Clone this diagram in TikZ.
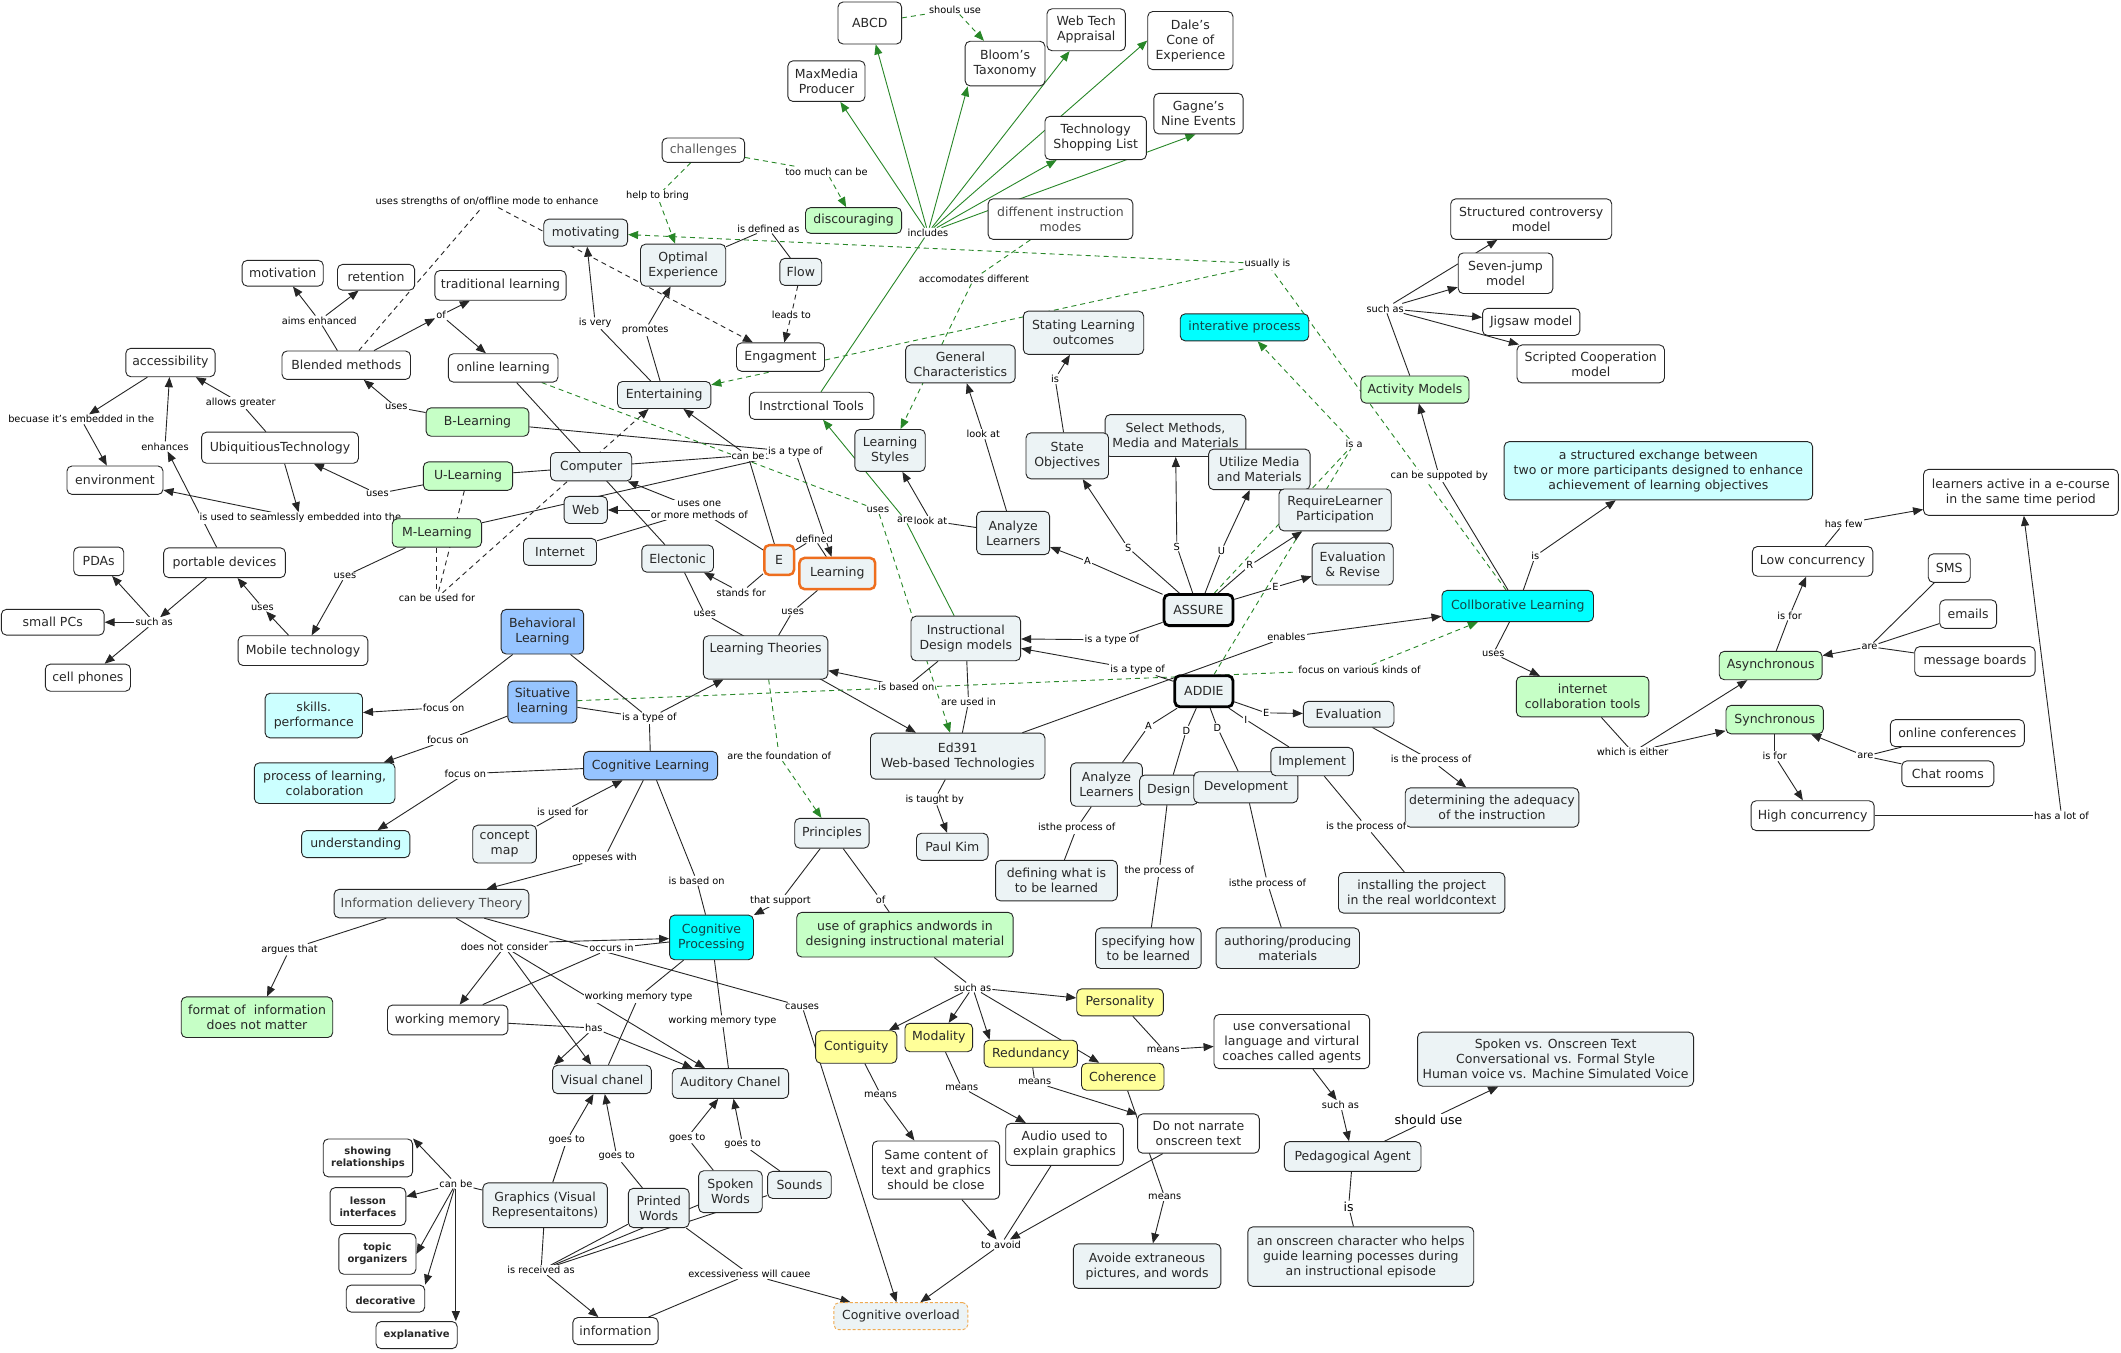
\documentclass[tikz,border=0pt]{standalone}
\usepackage{fontspec}
\setmainfont{DejaVu Sans}
\usetikzlibrary{arrows.meta,backgrounds}
\definecolor{gfill}{RGB}{236,243,245}
\definecolor{grnfill}{RGB}{198,255,198}
\definecolor{cyfill}{RGB}{0,255,255}
\definecolor{lcyfill}{RGB}{204,255,255}
\definecolor{blfill}{RGB}{150,196,255}
\definecolor{yfill}{RGB}{255,255,153}
\definecolor{lgreen}{RGB}{40,135,40}
\definecolor{orng}{RGB}{238,110,30}
\definecolor{ltorng}{RGB}{240,170,80}
\definecolor{txt}{RGB}{40,40,40}
\newcommand\nodefont{\fontsize{12.5}{15}\selectfont}
\newcommand\labfont{\fontsize{9.8}{11.5}\selectfont}
\newcommand\boldfont{\fontsize{10}{12}\selectfont\bfseries}
\newcommand\lnkL[3][]{\draw[ln,#1] (#2) -- (#3);}
\newcommand\lnkA[3][]{\draw[ln,ar,#1] (#2) -- (#3);}
\tikzset{
 cbox/.style={draw=black!85, line width=0.9pt, rounded corners=5pt, fill=white, align=center, font=\nodefont, text=txt, inner xsep=4pt, inner ysep=3pt},
 wb/.style={cbox},
 gb/.style={cbox, fill=gfill},
 grb/.style={cbox, fill=grnfill},
 cyb/.style={cbox, fill=cyfill, text={rgb,255:red,20;green,70;blue,70}},
 lcb/.style={cbox, fill=lcyfill},
 blb/.style={cbox, fill=blfill},
 yb/.style={cbox, fill=yfill},
 bldb/.style={cbox, font=\boldfont},
 obox/.style={gb, draw=orng, line width=2.5pt},
 tbox/.style={gb, draw=black, line width=2.8pt},
 sz/.style 2 args={minimum width={#1*1.3527pt}, minimum height={#2*1.3527pt}},
 lab/.style={font=\labfont, fill=white, inner sep=1pt, text=black, align=center},
 ln/.style={line width=0.9pt, draw=black!85},
 ar/.style={-{Triangle[length=10pt,width=8pt]}},
 gln/.style={draw=lgreen},
 dsh/.style={dash pattern=on 5pt off 4pt}
}
\begin{document}
\begin{tikzpicture}[x=1.3527pt,y=-1.3527pt]
\path[use as bounding box] (0,0) rectangle (1568,1000);
% ---------- concepts ----------
\node[wb,sz={47}{31}] (abcd) at (643,17) {ABCD};
\node[wb,sz={57}{30}] (maxm) at (611,60) {MaxMedia\\Producer};
\node[wb,sz={59}{33}] (bloom) at (743,47) {Bloom's\\Taxonomy};
\node[wb,sz={58}{31}] (webtech) at (803,22) {Web Tech\\Appraisal};
\node[wb,sz={63}{43}] (dale) at (880,30) {Dale's\\Cone of\\Experience};
\node[wb,sz={66}{30}] (gagne) at (886,84) {Gagne's\\Nine Events};
\node[wb,sz={75}{32}] (techsl) at (810,102) {Technology\\Shopping List};
\node[wb,sz={61}{18},text=black!65] (chall) at (520,111) {challenges};
\node[grb,sz={71}{19}] (disc) at (631,163) {discouraging};
\node[wb,sz={107}{30},text=black!70] (diffm) at (784,162) {diffenent instruction\\modes};
\node[gb,sz={62}{20}] (motiv) at (433,172) {motivating};
\node[gb,sz={63}{31}] (optexp) at (505,196) {Optimal\\Experience};
\node[gb,sz={31}{20}] (flow) at (592,201) {Flow};
\node[wb,sz={60}{19}] (motivation) at (209,202) {motivation};
\node[wb,sz={57}{19}] (retention) at (278,205) {retention};
\node[wb,sz={97}{22}] (tradl) at (370,211) {traditional learning};
\node[wb,sz={95}{21}] (blended) at (256,270) {Blended methods};
\node[wb,sz={81}{21}] (onl) at (372,272) {online learning};
\node[wb,sz={65}{21}] (engag) at (577,264) {Engagment};
\node[gb,sz={69}{20}] (entert) at (491,292) {Entertaining};
\node[wb,sz={92}{20}] (itools) at (600,300) {Instrctional Tools};
\node[gb,sz={81}{28}] (gench) at (710,269) {General\\Characteristics};
\node[gb,sz={89}{32}] (stlo) at (801,246) {Stating Learning\\outcomes};
\node[cyb,sz={95}{20}] (iterp) at (920,242) {interative process};
\node[wb,sz={119}{30}] (strc) at (1132,162) {Structured controversy\\model};
\node[wb,sz={70}{30}] (sevj) at (1113,202) {Seven-jump\\model};
\node[wb,sz={72}{20}] (jigs) at (1132,238) {Jigsaw model};
\node[wb,sz={109}{28}] (scrc) at (1176,269) {Scripted Cooperation\\model};
\node[grb,sz={80}{20}] (actm) at (1046,288) {Activity Models};
\node[wb,sz={66}{21}] (access) at (126,268) {accessibility};
\node[grb,sz={76}{21}] (blearn) at (353,312) {B-Learning};
\node[wb,sz={116}{23}] (ubiq) at (207,331) {UbiquitiousTechnology};
\node[wb,sz={71}{21}] (envir) at (85,355) {environment};
\node[grb,sz={66}{21}] (ulearn) at (346,352) {U-Learning};
\node[gb,sz={60}{21}] (comp) at (437,345) {Computer};
\node[gb,sz={52}{31}] (lstyle) at (658,333) {Learning\\Styles};
\node[gb,sz={104}{31}] (selm) at (869,322) {Select Methods,\\Media and Materials};
\node[gb,sz={61}{34}] (stobj) at (789,337) {State\\Objectives};
\node[gb,sz={75}{30}] (utmm) at (931,347) {Utilize Media\\and Materials};
\node[gb,sz={83}{31}] (reqlp) at (987,377) {RequireLearner\\Participation};
\node[lcb,sz={228}{43}] (strex) at (1226,348) {a structured exchange between\\two or more participants designed to enhance\\achievement of learning objectives};
\node[wb,sz={144}{34}] (lact) at (1494,364) {learners active in a e-course\\in the same time period};
\node[gb,sz={32}{20}] (web) at (433,377) {Web};
\node[gb,sz={54}{20}] (inet) at (414,408) {Internet};
\node[gb,sz={53}{20}] (elec) at (501,413) {Electonic};
\node[obox,sz={22}{22}] (enode) at (576,414) {E};
\node[obox,sz={56}{23}] (learn) at (619,424) {Learning};
\node[lab] (l8) at (222,383) {is used to seamlessly embedded into the};
\node[grb,sz={66}{21}] (mlearn) at (323,394) {M-Learning};
\node[wb,sz={90}{22}] (portd) at (166,416) {portable devices};
\node[wb,sz={37}{21}] (pdas) at (73,415) {PDAs};
\node[gb,sz={54}{32}] (anl1) at (749,394) {Analyze\\Learners};
\node[gb,sz={60}{31}] (evrev) at (1000,417) {Evaluation\\\& Revise};
\node[wb,sz={89}{22}] (lowc) at (1340,415) {Low concurrency};
\node[wb,sz={31}{21}] (sms) at (1441,420) {SMS};
\node[wb,sz={76}{19}] (smpc) at (39,460) {small PCs};
\node[tbox,sz={51}{23}] (assure) at (886,451) {ASSURE};
\node[cyb,sz={112}{23}] (collab) at (1122,448) {Collborative Learning};
\node[wb,sz={42}{21}] (emails) at (1455,454) {emails};
\node[blb,sz={61}{33}] (behav) at (401,467) {Behavioral\\Learning};
\node[gb,sz={81}{33}] (idm) at (714,472) {Instructional\\Design models};
\node[gb,sz={92}{32},text depth=20pt] (lth) at (566,486) {Learning Theories};
\node[wb,sz={63}{20}] (cellp) at (65,501) {cell phones};
\node[wb,sz={96}{22}] (mobt) at (224,481) {Mobile technology};
\node[wb,sz={89}{22}] (msgb) at (1460,489) {message boards};
\node[grb,sz={76}{21}] (async) at (1309,492) {Asynchronous};
\node[tbox,sz={43}{23}] (addie) at (890,511) {ADDIE};
\node[grb,sz={98}{30}] (ict) at (1170,515) {internet\\collaboration tools};
\node[blb,sz={51}{31}] (situ) at (401,519) {Situative\\learning};
\node[lcb,sz={72}{33}] (skill) at (232,529) {skills.\\performance};
\node[gb,sz={67}{19}] (evalu) at (997,528) {Evaluation};
\node[grb,sz={72}{21}] (sync) at (1312,532) {Synchronous};
\node[wb,sz={99}{20}] (onconf) at (1447,542) {online conferences};
\node[blb,sz={99}{21}] (cogl) at (481,566) {Cognitive Learning};
\node[gb,sz={129}{34}] (ed391) at (708,559) {Ed391\\Web-based Technologies};
\node[gb,sz={53}{32}] (anl2) at (818,580) {Analyze\\Learners};
\node[gb,sz={43}{22}] (design) at (864,584) {Design};
\node[gb,sz={77}{23}] (devel) at (921,582) {Development};
\node[gb,sz={61}{21}] (impl) at (970,563) {Implement};
\node[lcb,sz={104}{30}] (procl) at (240,579) {process of learning,\\colaboration};
\node[wb,sz={68}{19}] (chat) at (1440,572) {Chat rooms};
\node[gb,sz={106}{29}] (deter) at (1103,597) {determining the adequacy\\of the instruction};
\node[wb,sz={91}{22}] (highc) at (1340,603) {High concurrency};
\node[gb,sz={55}{22}] (princ) at (615,616) {Principles};
\node[gb,sz={47}{28}] (cmap) at (373,624) {concept\\map};
\node[lcb,sz={80}{20}] (under) at (263,624) {understanding};
\node[gb,sz={53}{20}] (paul) at (704,626) {Paul Kim};
\node[gb,sz={90}{30}] (defw) at (781,651) {defining what is\\to be learned};
\node[gb,sz={123}{30}] (inst) at (1051,660) {installing the project\\in the real worldcontext};
\node[gb,sz={144}{21},text=black!70] (idt) at (319,668) {Information delievery Theory};
\node[cyb,sz={62}{33}] (cogp) at (526,693) {Cognitive\\Processing};
\node[grb,sz={160}{33}] (useg) at (669,691) {use of graphics andwords in\\designing instructional material};
\node[gb,sz={78}{30}] (spec) at (849,701) {specifying how\\to be learned};
\node[gb,sz={106}{30}] (auth) at (952,701) {authoring/producing\\materials};
\node[grb,sz={112}{30}] (fmt) at (190,752) {format of\ \ information\\does not matter};
\node[wb,sz={89}{22}] (wmem) at (331,754) {working memory};
\node[yb,sz={64}{20}] (pers) at (828,741) {Personality};
\node[wb,sz={115}{40}] (ucon) at (955,770) {use conversational\\language and virtural\\coaches called agents};
\node[gb,sz={204}{40}] (spok) at (1150,783) {Spoken vs. Onscreen Text\\Conversational vs. Formal Style\\Human voice vs. Machine Simulated Voice};
\node[yb,sz={60}{24}] (contig) at (633,774) {Contiguity};
\node[yb,sz={50}{21}] (modal) at (694,767) {Modality};
\node[yb,sz={69}{20}] (redun) at (762,779) {Redundancy};
\node[yb,sz={61}{20}] (coher) at (830,796) {Coherence};
\node[gb,sz={73}{21}] (vis) at (445,798) {Visual chanel};
\node[gb,sz={86}{22}] (aud) at (540,801) {Auditory Chanel};
\node[wb,sz={90}{29}] (dnn) at (886,838) {Do not narrate\\onscreen text};
\node[wb,sz={87}{31}] (audio) at (787,846) {Audio used to\\explain graphics};
\node[wb,sz={94}{43}] (same) at (692,865) {Same content of\\text and graphics\\should be close};
\node[gb,sz={101}{22}] (pedag) at (1000,855) {Pedagogical Agent};
\node[bldb,sz={66}{28}] (showr) at (272,856) {showing\\relationships};
\node[bldb,sz={56}{28}] (lessi) at (272,892) {lesson\\interfaces};
\node[bldb,sz={57}{30}] (topic) at (279,927) {topic\\organizers};
\node[bldb,sz={58}{20},text height=12pt] (decor) at (285,960) {decorative};
\node[bldb,sz={60}{20}] (expl) at (308,987) {explanative};
\node[gb,sz={92}{33}] (graph) at (403,891) {Graphics (Visual\\Representaitons)};
\node[gb,sz={45}{29}] (printw) at (487,893) {Printed\\Words};
\node[gb,sz={47}{31}] (spokw) at (540,881) {Spoken\\Words};
\node[gb,sz={47}{20}] (sounds) at (591,876) {Sounds};
\node[gb,sz={109}{33}] (avoid) at (848,936) {Avoide extraneous\\pictures, and words};
\node[gb,sz={167}{44}] (onch) at (1006,929) {an onscreen character who helps\\guide learning pocesses during\\an instructional episode};
\node[wb,sz={63}{20}] (info) at (455,984) {information};
\node[gb,sz={99}{20},draw=ltorng,dash pattern=on 3pt off 2pt] (cover) at (666,973) {Cognitive overload};
% ---------- linking phrases ----------
\node[lab] (l1) at (360,149) {uses strengths of on/offline mode to enhance};
\node[lab] (l2) at (236,237) {aims enhanced};
\node[lab] (l3) at (326,233) {of};
\node[lab] (l4) at (293,301) {uses};
\node[lab] (l5) at (178,298) {allows greater};
\node[lab] (l6) at (60,310) {becuase it's embedded in the};
\node[lab] (l7) at (122,330) {enhances};
\node[lab] (l9) at (279,365) {uses};
\node[lab] (l10) at (255,426) {uses};
\node[lab] (l11) at (323,442) {can be used for};
\node[lab] (l12) at (114,460) {such as};
\node[lab] (l13) at (194,449) {uses};
\node[lab] (l14) at (588,334) {is a type of};
\node[lab] (l15) at (553,337) {can be};
\node[lab] (l16) at (517,377) {uses one\\or more methods of};
\node[lab] (l17) at (548,438) {stands for};
\node[lab] (l18) at (602,398) {defined};
\node[lab] (l19) at (586,452) {uses};
\node[lab] (l20) at (521,454) {uses};
\node[lab] (l21) at (649,377) {uses};
\node[lab] (l22) at (669,384) {are};
\node[lab] (l23) at (688,385) {look at};
\node[lab] (l24) at (727,321) {look at};
\node[lab] (l25) at (780,280) {is};
\node[lab] (l26) at (720,206) {accomodates different};
\node[lab] (l27) at (937,195) {usually is};
\node[lab] (l28) at (1001,328) {is a};
\node[lab] (l29) at (1064,352) {can be suppoted by};
\node[lab] (l30) at (1024,228) {such as};
\node[lab] (l31) at (1135,411) {is};
\node[lab] (l32) at (1104,483) {uses};
\node[lab] (l33) at (1207,556) {which is either};
\node[lab] (l34) at (1323,455) {is for};
\node[lab] (l35) at (1312,559) {is for};
\node[lab] (l36) at (1363,387) {has few};
\node[lab] (l37) at (1524,603) {has a lot of};
\node[lab] (l38) at (1382,478) {are};
\node[lab] (l39) at (1379,559) {are};
\node[lab] (l40) at (951,471) {enables};
\node[lab] (l41) at (1005,495) {focus on various kinds of};
\node[lab] (l42) at (822,473) {is a type of};
\node[lab] (l43) at (841,495) {is a type of};
\node[lab] (l44) at (804,415) {A};
\node[lab] (l45) at (834,405) {S};
\node[lab] (l46) at (870,404) {S};
\node[lab] (l47) at (903,407) {U};
\node[lab] (l48) at (924,418) {R};
\node[lab] (l49) at (943,434) {E};
\node[lab] (l50) at (849,537) {A};
\node[lab] (l51) at (877,540) {D};
\node[lab] (l52) at (900,538) {D};
\node[lab] (l53) at (921,532) {I};
\node[lab] (l54) at (936,527) {E};
\node[lab] (l55) at (796,612) {isthe process of};
\node[lab] (l56) at (857,644) {the process of};
\node[lab] (l57) at (937,653) {isthe process of};
\node[lab] (l58) at (1010,611) {is the process of};
\node[lab] (l59) at (1058,562) {is the process of};
\node[lab] (l60) at (716,519) {are used in};
\node[lab] (l61) at (670,508) {is based on};
\node[lab] (l62) at (480,531) {is a type of};
\node[lab] (l63) at (328,523) {focus on};
\node[lab] (l64) at (331,547) {focus on};
\node[lab] (l65) at (344,572) {focus on};
\node[lab] (l66) at (416,600) {is used for};
\node[lab] (l67) at (447,634) {oppeses with};
\node[lab] (l68) at (515,651) {is based on};
\node[lab] (l69) at (576,559) {are the foundation of};
\node[lab] (l70) at (691,591) {is taught by};
\node[lab] (l71) at (577,666) {that support};
\node[lab] (l72) at (651,665) {of};
\node[lab] (l73) at (719,730) {such as};
\node[lab] (l74) at (214,702) {argues that};
\node[lab] (l75) at (373,700) {does not consider};
\node[lab] (l76) at (452,701) {occurs in};
\node[lab] (l77) at (472,737) {working memory type};
\node[lab] (l78) at (534,755) {working memory type};
\node[lab] (l79) at (439,760) {has};
\node[lab] (l80) at (593,744) {causes};
\node[lab] (l81) at (419,843) {goes to};
\node[lab] (l82) at (456,855) {goes to};
\node[lab] (l83) at (508,841) {goes to};
\node[lab] (l84) at (549,846) {goes to};
\node[lab] (l85) at (337,875) {can be};
\node[lab] (l86) at (400,939) {is received as};
\node[lab] (l87) at (554,942) {excessiveness will cauee};
\node[lab] (l88) at (651,809) {means};
\node[lab] (l89) at (711,804) {means};
\node[lab] (l90) at (765,800) {means};
\node[lab] (l91) at (861,885) {means};
\node[lab] (l92) at (860,776) {means};
\node[lab] (l93) at (991,817) {such as};
\node[lab,font=\nodefont] (l94) at (1056,828) {should use};
\node[lab,font=\nodefont] (l95) at (997,892) {is};
\node[lab] (l96) at (740,920) {to avoid};
\node[lab] (l97) at (686,172) {includes};
\node[lab] (l98) at (706,7) {shouls use};
\node[lab] (l99) at (611,127) {too much can be};
\node[lab] (l100) at (486,145) {help to bring};
\node[lab] (l101) at (568,169) {is defined as};
\node[lab] (l102) at (585,233) {leads to};
\node[lab] (l103) at (440,239) {is very};
\node[lab] (l104) at (477,244) {promotes};
% ---------- connectors ----------
\begin{scope}[on background layer]
\fill[white] (0,0) rectangle (1568,1000);
\lnkL[dsh]{blended}{l1} \lnkA[dsh]{l1}{engag}
\lnkL{blended}{l2} \lnkA{l2}{motivation} \lnkA{l2}{retention}
\lnkA{blended}{l3} \lnkA{l3}{tradl} \lnkA{l3}{onl}
\lnkL{blearn}{l4} \lnkA{l4}{blended}
\lnkL{ubiq}{l5} \lnkA{l5}{access}
\lnkA{access}{l6} \lnkA{l6}{envir}
\lnkA{portd}{l7} \lnkA{l7}{access}
\lnkA{ubiq}{l8} \lnkA{l8}{envir}
\lnkL{ulearn}{l9} \lnkA{l9}{ubiq}
\lnkL{mlearn}{l10} \lnkA{l10}{mobt}
\lnkL[dsh]{ulearn}{l11} \lnkL[dsh]{mlearn}{l11} \lnkA[dsh]{l11}{entert}
\lnkA{portd}{l12} \lnkA{l12}{pdas} \lnkA{l12}{smpc} \lnkA{l12}{cellp}
\lnkA{mobt}{l13} \lnkA{l13}{portd}
\lnkL{blearn}{l14} \lnkL{ulearn}{l14} \lnkL{mlearn}{l14} \lnkA{l14}{learn}
\lnkL{enode}{l15} \lnkA{l15}{entert}
\lnkL{enode}{l16} \lnkA{l16}{comp} \lnkA{l16}{web} \lnkL{l16}{inet}
\lnkL{enode}{l17} \lnkA{l17}{elec}
\lnkL{enode}{l18} \lnkL{l18}{learn}
\lnkL{learn}{l19} \lnkL{l19}{lth}
\lnkL{elec}{l20} \lnkA{l20}{ed391}
\lnkL{onl}{elec}
\lnkL[gln,dsh]{onl}{l21} \lnkA[gln,dsh]{l21}{ed391}
\lnkL[gln]{idm}{l22} \lnkA[gln]{l22}{itools}
\lnkL{anl1}{l23} \lnkA{l23}{lstyle}
\lnkL{anl1}{l24} \lnkA{l24}{gench}
\lnkL{stobj}{l25} \lnkA{l25}{stlo}
\lnkL[gln,dsh]{diffm}{l26} \lnkA[gln,dsh]{l26}{lstyle}
\lnkL[gln,dsh]{collab}{l27} \lnkA[gln,dsh]{l27}{motiv} \lnkA[gln,dsh]{l27}{entert}
\lnkL[gln,dsh]{assure}{l28} \lnkL[gln,dsh]{addie}{l28} \lnkA[gln,dsh]{l28}{iterp}
\lnkL{collab}{l29} \lnkA{l29}{actm}
\lnkL{actm}{l30} \lnkA{l30}{strc} \lnkA{l30}{sevj} \lnkA{l30}{jigs} \lnkA{l30}{scrc}
\lnkL{collab}{l31} \lnkA{l31}{strex}
\lnkL{collab}{l32} \lnkA{l32}{ict}
\lnkL{ict}{l33} \lnkA{l33}{async} \lnkA{l33}{sync}
\lnkL{async}{l34} \lnkA{l34}{lowc}
\lnkL{sync}{l35} \lnkA{l35}{highc}
\lnkL{lowc}{l36} \lnkA{l36}{lact}
\lnkL{highc}{l37} \lnkA{l37}{lact}
\lnkL{sms}{l38} \lnkL{emails}{l38} \lnkL{msgb}{l38} \lnkA{l38}{async}
\lnkL{onconf}{l39} \lnkL{chat}{l39} \lnkA{l39}{sync}
\lnkL{ed391}{l40} \lnkA{l40}{collab}
\lnkL[gln,dsh]{situ}{l41} \lnkA[gln,dsh]{l41}{collab}
\lnkL{assure}{l42} \lnkA{l42}{idm}
\lnkL{addie}{l43} \lnkA{l43}{idm}
\lnkL{assure}{l44} \lnkA{l44}{anl1}
\lnkL{assure}{l45} \lnkA{l45}{stobj}
\lnkL{assure}{l46} \lnkA{l46}{selm}
\lnkL{assure}{l47} \lnkA{l47}{utmm}
\lnkL{assure}{l48} \lnkA{l48}{reqlp}
\lnkL{assure}{l49} \lnkA{l49}{evrev}
\lnkL{addie}{l50} \lnkL{l50}{anl2}
\lnkL{addie}{l51} \lnkL{l51}{design}
\lnkL{addie}{l52} \lnkL{l52}{devel}
\lnkL{addie}{l53} \lnkL{l53}{impl}
\lnkL{addie}{l54} \lnkA{l54}{evalu}
\lnkL{anl2}{l55} \lnkL{l55}{defw}
\lnkL{design}{l56} \lnkL{l56}{spec}
\lnkL{devel}{l57} \lnkL{l57}{auth}
\lnkL{impl}{l58} \lnkL{l58}{inst}
\lnkL{evalu}{l59} \lnkA{l59}{deter}
\lnkL{idm}{l60} \lnkL{l60}{ed391}
\lnkL{idm}{l61} \lnkA{l61}{lth}
\lnkL{behav}{l62} \lnkL{situ}{l62} \lnkL{cogl}{l62} \lnkA{l62}{lth}
\lnkL{behav}{l63} \lnkA{l63}{skill}
\lnkL{situ}{l64} \lnkA{l64}{procl}
\lnkL{cogl}{l65} \lnkA{l65}{under}
\lnkL{cmap}{l66} \lnkA{l66}{cogl}
\lnkL{cogl}{l67} \lnkA{l67}{idt}
\lnkL{cogl}{l68} \lnkL{l68}{cogp}
\lnkL[gln,dsh]{lth}{l69} \lnkA[gln,dsh]{l69}{princ}
\lnkL{ed391}{l70} \lnkA{l70}{paul}
\lnkL{princ}{l71} \lnkA{l71}{cogp}
\lnkL{princ}{l72} \lnkL{l72}{useg}
\lnkL{useg}{l73} \lnkA{l73}{contig} \lnkA{l73}{modal} \lnkA{l73}{[xshift=6pt]redun.north west} \lnkA{l73}{pers} \lnkA{l73}{coher}
\lnkL{idt}{l74} \lnkA{l74}{fmt}
\lnkL{idt}{l75} \lnkA{l75}{wmem} \lnkA{l75}{vis} \lnkA{l75}{aud} \lnkA{l75.north east}{cogp}
\lnkL{wmem}{l76} \lnkL{l76}{cogp}
\lnkL{cogp}{l77} \lnkL{l77}{vis}
\lnkL{cogp}{l78} \lnkL{l78}{aud}
\lnkL{wmem}{l79} \lnkA{l79}{vis.163} \lnkA{l79}{aud}
\lnkL{idt}{l80} \lnkA{l80}{cover}
\lnkL{graph}{l81} \lnkA{l81}{vis}
\lnkL{printw}{l82} \lnkA{l82}{vis}
\lnkL{spokw}{l83} \lnkA{l83}{aud}
\lnkL{sounds}{l84} \lnkA{l84}{aud}
\lnkL{graph}{l85} \lnkA{l85}{showr.north east} \lnkA{l85}{lessi} \lnkA{l85}{topic.east} \lnkA{l85}{decor.north east} \lnkA{l85}{l85 |- expl.north}
\lnkL{graph}{l86} \lnkL{printw}{l86} \lnkL{spokw}{l86} \lnkL{sounds}{l86} \lnkA{l86}{info}
\lnkL{info}{l87} \lnkL{printw}{l87} \lnkA{l87}{cover}
\lnkL{contig}{l88} \lnkA{l88}{same}
\lnkL{modal}{l89} \lnkA{l89}{audio}
\lnkL{redun}{l90} \lnkA{l90}{dnn}
\lnkL{coher}{l91} \lnkA{l91}{avoid}
\lnkL{pers}{l92} \lnkA{l92}{ucon}
\lnkA{ucon}{l93} \lnkA{l93}{pedag}
\lnkL{pedag}{l94} \lnkA{l94}{spok}
\lnkL{pedag}{l95} \lnkL{l95}{onch}
\lnkA{same}{l96} \lnkL{audio}{l96} \lnkA{dnn}{l96} \lnkA{l96}{cover}
\lnkL[gln]{itools}{l97}
\lnkA[gln]{l97}{maxm} \lnkA[gln]{l97}{abcd} \lnkA[gln]{l97}{[xshift=3pt]bloom.south west} \lnkA[gln]{l97}{webtech} \lnkA[gln]{l97}{dale.west} \lnkA[gln]{l97}{techsl} \lnkA[gln]{l97}{[xshift=-3pt]gagne.south}
\lnkL[gln,dsh]{abcd}{l98} \lnkA[gln,dsh]{l98}{bloom}
\lnkL[gln,dsh]{chall}{l99} \lnkA[gln,dsh]{l99}{disc}
\lnkL[gln,dsh]{chall}{l100} \lnkA[gln,dsh]{l100}{optexp}
\lnkL{optexp}{l101} \lnkL{flow}{l101}
\lnkL[dsh]{flow}{l102} \lnkA[dsh]{l102}{engag}
\lnkL{entert}{l103} \lnkA{l103}{motiv}
\lnkL{entert}{l104} \lnkA{l104}{optexp}
\end{scope}
\end{tikzpicture}
\end{document}
